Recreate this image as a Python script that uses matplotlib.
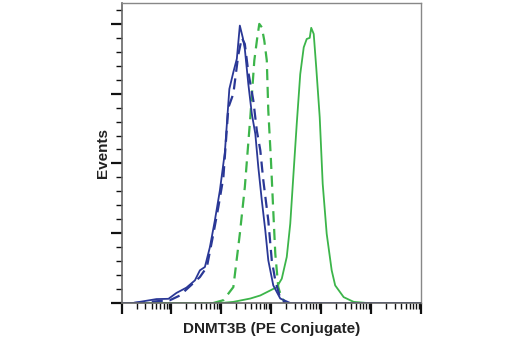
import matplotlib
matplotlib.use("Agg")
import matplotlib.pyplot as plt
import numpy as np
from matplotlib.ticker import LogLocator, MultipleLocator, NullFormatter

# x in decades (log10 of intensity), y in % of max
blue_x = [0.0, 0.23, 0.70, 0.94, 1.10, 1.30, 1.47, 1.57, 1.67, 1.77, 1.87, 1.97, 2.07,
          2.16, 2.24, 2.31, 2.37, 2.43, 2.47, 2.54, 2.61, 2.68, 2.74, 2.81, 2.88,
          2.94, 3.04, 3.18, 3.38, 6.0]
blue_y = [0, 0, 1.4, 1.5, 3.6, 5.5, 8.1, 11.7, 12.9, 20, 29.6, 40.3, 54,
          76.7, 82.7, 87.5, 99.4, 95, 91, 78.5, 67.8, 60.6, 48.7, 36.8, 26,
          15.3, 6.3, 1.6, 0, 0]

blue_iso_x = [0.25, 0.97, 1.17, 1.37, 1.57, 1.71, 1.84, 1.94, 2.04, 2.14, 2.24, 2.34,
              2.41, 2.47, 2.54, 2.64, 2.71, 2.78, 2.84, 2.94, 3.01, 3.08, 3.18, 3.28]
blue_iso_y = [0, 1, 2.7, 6, 9.3, 12.9, 24.8, 34.4, 45, 70, 75, 89,
              95, 92.8, 82.7, 72.6, 61.8, 54.7, 44, 29.6, 15.3, 8.1, 1.6, 0]

green_iso_x = [1.84, 2.04, 2.24, 2.37, 2.47, 2.58, 2.66, 2.72, 2.76, 2.81, 2.86, 2.91,
               2.94, 2.99, 3.03, 3.08, 3.14, 3.21, 3.31]
green_iso_y = [0, 1, 5.7, 24.8, 41.5, 66.6, 86.9, 95.2, 100, 98.8, 94, 86.9,
               69, 52.3, 36.8, 17.7, 5.7, 1.6, 0]

green_x = [0.0, 2.0, 2.24, 2.58, 2.78, 2.98, 3.11, 3.21, 3.31, 3.38, 3.44, 3.51, 3.58,
           3.65, 3.71, 3.77, 3.80, 3.85, 3.90, 3.97, 4.03, 4.11, 4.21, 4.28,
           4.45, 4.65, 4.92, 6.0]
green_y = [0, 0, 0.4, 1.6, 2.7, 4.5, 5.7, 8.7, 16.5, 28.4, 45, 64.2, 82,
           91.6, 94.6, 95, 98.6, 96.4, 84.5, 66.6, 42.7, 24.8, 11.7, 6.3,
           2.1, 0.4, 0, 0]

navy = "#2a3896"
green = "#3cb54a"

plt.rcParams['font.family'] = ['Liberation Sans', 'DejaVu Sans']

fig = plt.figure(figsize=(5.2, 3.5), dpi=100)
ax = fig.add_axes([0.2337, 0.1343, 0.5760, 0.8580])

ax.plot(10 ** np.array(green_x), green_y, color=green, lw=1.3)
ax.plot(10 ** np.array(green_iso_x), green_iso_y, color=green, lw=1.6, ls=(0, (5, 3)))
ax.plot(10 ** np.array(blue_x), blue_y, color=navy, lw=1.3)
ax.plot(10 ** np.array(blue_iso_x), blue_iso_y, color=navy, lw=1.6, ls=(0, (5, 3)))

ax.set_xscale('log')
ax.set_xlim(1, 1e6)
ax.set_ylim(0, 107.6)

ax.xaxis.set_major_locator(LogLocator(base=10, numticks=10))
ax.xaxis.set_minor_locator(LogLocator(base=10, subs=np.arange(2, 10), numticks=10))
ax.xaxis.set_major_formatter(NullFormatter())
ax.xaxis.set_minor_formatter(NullFormatter())
ax.yaxis.set_major_locator(MultipleLocator(25))
ax.yaxis.set_minor_locator(MultipleLocator(5))
ax.yaxis.set_major_formatter(NullFormatter())

ax.tick_params(which='major', direction='out', length=8, width=1.6, color='#111111')
ax.tick_params(which='minor', direction='out', length=4, width=1.0, color='#111111')
ax.tick_params(top=False, right=False)

for s in ['left', 'bottom']:
    ax.spines[s].set_color('#666666')
    ax.spines[s].set_linewidth(1.2)
for s in ['top', 'right']:
    ax.spines[s].set_color('#888888')
    ax.spines[s].set_linewidth(1.0)

ax.set_xlabel('DNMT3B (PE Conjugate)', fontsize=11, fontweight='bold', color='#222222', labelpad=2)
ax.set_ylabel('Events', fontsize=11, fontweight='bold', color='#222222', labelpad=-3)

fig.savefig('out.png', dpi=100)
